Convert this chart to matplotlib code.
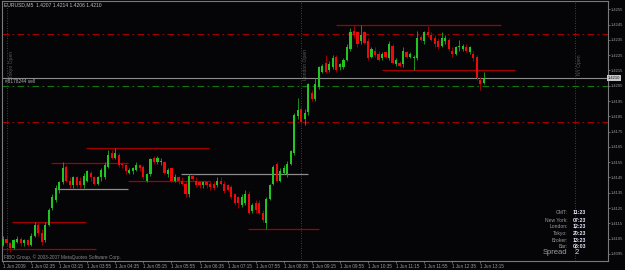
import matplotlib
matplotlib.use("Agg")
import matplotlib.pyplot as plt
import numpy as np

# ---------------- data ----------------
header = "EURUSD,M5  1.4207 1.4214 1.4206 1.4210"

opens = [1.4101, 1.4105, 1.4102, 1.4099, 1.4103, 1.4105, 1.4102, 1.4104, 1.4101, 1.4107,
         1.4114, 1.4109, 1.4104, 1.4114, 1.4125, 1.4130, 1.4137, 1.4142, 1.4152, 1.4143,
         1.4140, 1.4145, 1.4143, 1.4140, 1.4143, 1.4148, 1.4145, 1.4141, 1.4145, 1.4145,
         1.4152, 1.4161, 1.4158, 1.4160, 1.4154, 1.4153, 1.4148, 1.4149, 1.4150, 1.4153,
         1.4152, 1.4143, 1.4147, 1.4158, 1.4155, 1.4155, 1.4155, 1.4147, 1.4151, 1.4143,
         1.4145, 1.4143, 1.4141, 1.4134, 1.4146, 1.4143, 1.4142, 1.4140, 1.4142, 1.4141,
         1.4141, 1.4140, 1.4143, 1.4141, 1.4140, 1.4139, 1.4134, 1.4132, 1.4127, 1.4128,
         1.4134, 1.4123, 1.4128, 1.4128, 1.4122, 1.4115, 1.4131, 1.4141, 1.4154, 1.4143,
         1.4148, 1.4147, 1.4154, 1.4161, 1.4185, 1.4190, 1.4183, 1.4188, 1.4200, 1.4196,
         1.4204, 1.4214, 1.4220, 1.4215, 1.4217, 1.4224, 1.4217, 1.4217, 1.4222, 1.4229,
         1.4241, 1.4240, 1.4234, 1.4240, 1.4234, 1.4224, 1.4228, 1.4226, 1.4223, 1.4227,
         1.4223, 1.4231, 1.4219, 1.4220, 1.4219, 1.4227, 1.4224, 1.4223, 1.4223, 1.4237,
         1.4234, 1.4240, 1.4238, 1.4236, 1.4234, 1.4231, 1.4234, 1.4235, 1.4228, 1.4226,
         1.4230, 1.4229, 1.4230, 1.4227, 1.4226, 1.4224, 1.4209, 1.4207]
highs = [1.4107, 1.4107, 1.4103, 1.4105, 1.4107, 1.4106, 1.4105, 1.4105, 1.4109, 1.4116,
         1.4115, 1.4111, 1.4116, 1.4125, 1.4134, 1.4140, 1.4143, 1.4155, 1.4153, 1.4145,
         1.4146, 1.4146, 1.4145, 1.4148, 1.4150, 1.4149, 1.4146, 1.4146, 1.4151, 1.4155,
         1.4163, 1.4163, 1.4164, 1.4161, 1.4155, 1.4154, 1.4151, 1.4152, 1.4155, 1.4154,
         1.4153, 1.4148, 1.4158, 1.4159, 1.4159, 1.4158, 1.4156, 1.4151, 1.4152, 1.4147,
         1.4146, 1.4145, 1.4143, 1.4147, 1.4147, 1.4145, 1.4143, 1.4143, 1.4143, 1.4143,
         1.4143, 1.4145, 1.4145, 1.4143, 1.4141, 1.4140, 1.4135, 1.4133, 1.4134, 1.4137,
         1.4136, 1.4128, 1.4130, 1.4130, 1.4124, 1.4132, 1.4141, 1.4153, 1.4155, 1.4151,
         1.4153, 1.4156, 1.4163, 1.4187, 1.4197, 1.4191, 1.4190, 1.4207, 1.4202, 1.4210,
         1.4218, 1.4219, 1.4225, 1.4221, 1.4225, 1.4225, 1.4220, 1.4223, 1.4232, 1.4243,
         1.4245, 1.4241, 1.4245, 1.4241, 1.4236, 1.4230, 1.4230, 1.4228, 1.4227, 1.4228,
         1.4234, 1.4232, 1.4223, 1.4221, 1.4230, 1.4228, 1.4227, 1.4225, 1.4241, 1.4238,
         1.4241, 1.4244, 1.4240, 1.4238, 1.4236, 1.4240, 1.4238, 1.4236, 1.4230, 1.4231,
         1.4235, 1.4232, 1.4232, 1.4231, 1.4228, 1.4225, 1.4211, 1.4214]
lows = [1.4100, 1.4101, 1.4096, 1.4098, 1.4102, 1.4100, 1.4100, 1.4100, 1.4100, 1.4106,
        1.4107, 1.4101, 1.4103, 1.4113, 1.4124, 1.4129, 1.4135, 1.4141, 1.4142, 1.4138,
        1.4138, 1.4139, 1.4138, 1.4138, 1.4142, 1.4143, 1.4140, 1.4140, 1.4143, 1.4144,
        1.4151, 1.4157, 1.4157, 1.4152, 1.4151, 1.4147, 1.4147, 1.4147, 1.4149, 1.4149,
        1.4144, 1.4142, 1.4146, 1.4154, 1.4154, 1.4153, 1.4147, 1.4145, 1.4142, 1.4142,
        1.4141, 1.4140, 1.4132, 1.4132, 1.4143, 1.4139, 1.4138, 1.4138, 1.4138, 1.4137,
        1.4137, 1.4139, 1.4140, 1.4135, 1.4136, 1.4131, 1.4127, 1.4125, 1.4126, 1.4127,
        1.4121, 1.4122, 1.4122, 1.4121, 1.4116, 1.4111, 1.4130, 1.4140, 1.4142, 1.4142,
        1.4147, 1.4145, 1.4153, 1.4160, 1.4183, 1.4180, 1.4179, 1.4186, 1.4195, 1.4195,
        1.4203, 1.4213, 1.4213, 1.4214, 1.4216, 1.4214, 1.4215, 1.4216, 1.4221, 1.4228,
        1.4236, 1.4230, 1.4232, 1.4232, 1.4222, 1.4223, 1.4224, 1.4221, 1.4222, 1.4223,
        1.4222, 1.4219, 1.4218, 1.4217, 1.4217, 1.4223, 1.4223, 1.4215, 1.4222, 1.4234,
        1.4232, 1.4237, 1.4234, 1.4230, 1.4229, 1.4230, 1.4232, 1.4228, 1.4224, 1.4225,
        1.4228, 1.4228, 1.4227, 1.4226, 1.4221, 1.4209, 1.4202, 1.4206]
closes = [1.4105, 1.4102, 1.4099, 1.4104, 1.4105, 1.4102, 1.4104, 1.4101, 1.4107, 1.4114,
          1.4109, 1.4103, 1.4114, 1.4124, 1.4132, 1.4138, 1.4142, 1.4151, 1.4143, 1.4140,
          1.4145, 1.4140, 1.4140, 1.4146, 1.4149, 1.4145, 1.4141, 1.4145, 1.4150, 1.4153,
          1.4160, 1.4158, 1.4161, 1.4153, 1.4153, 1.4149, 1.4150, 1.4151, 1.4153, 1.4151,
          1.4145, 1.4147, 1.4157, 1.4155, 1.4158, 1.4156, 1.4148, 1.4150, 1.4143, 1.4145,
          1.4143, 1.4141, 1.4134, 1.4146, 1.4144, 1.4140, 1.4140, 1.4142, 1.4140, 1.4139,
          1.4138, 1.4143, 1.4141, 1.4136, 1.4137, 1.4132, 1.4128, 1.4128, 1.4132, 1.4134,
          1.4122, 1.4127, 1.4124, 1.4122, 1.4117, 1.4131, 1.4140, 1.4152, 1.4143, 1.4149,
          1.4151, 1.4154, 1.4162, 1.4186, 1.4189, 1.4181, 1.4187, 1.4206, 1.4196, 1.4206,
          1.4217, 1.4218, 1.4214, 1.4219, 1.4223, 1.4215, 1.4219, 1.4222, 1.4230, 1.4240,
          1.4238, 1.4232, 1.4238, 1.4233, 1.4223, 1.4229, 1.4225, 1.4222, 1.4226, 1.4224,
          1.4232, 1.4220, 1.4222, 1.4218, 1.4228, 1.4224, 1.4226, 1.4224, 1.4236, 1.4235,
          1.4240, 1.4238, 1.4235, 1.4232, 1.4230, 1.4236, 1.4236, 1.4229, 1.4226, 1.4230,
          1.4231, 1.4231, 1.4228, 1.4230, 1.4223, 1.4210, 1.4206, 1.4210]

time_labels = ["1 Jun 2009", "1 Jun 02:35", "1 Jun 03:15", "1 Jun 03:55", "1 Jun 04:35",
               "1 Jun 05:15", "1 Jun 05:55", "1 Jun 06:35", "1 Jun 07:15", "1 Jun 07:55",
               "1 Jun 08:35", "1 Jun 09:15", "1 Jun 09:55", "1 Jun 10:35", "1 Jun 11:15",
               "1 Jun 11:55", "1 Jun 12:35", "1 Jun 13:15"]
price_ticks = [1.4095, 1.4105, 1.4115, 1.4125, 1.4135, 1.4145, 1.4155, 1.4165, 1.4175,
               1.4185, 1.4195, 1.4205, 1.4215, 1.4225, 1.4235, 1.4245, 1.4255]

stop_loss = 1.4239
take_profit = 1.4181
order_price = 1.4205
order_label = "#8178244 sell"
bid_price = 1.4210

red_levels = [1.4245, 1.4215, 1.4164, 1.41545, 1.4143, 1.4116, 1.4098, 1.4111]
red_from = [95, 108, 23.5, 13.7, 35.6, 2.6, -0.3, 69.8]
red_to = [142, 146, 58.7, 35.6, 59, 23.6, 26.5, 90]
gray_levels = [1.4147, 1.41375]
gray_from = [50.7, 15.7]
gray_to = [86.9, 35.6]

session_bars = [1, 85, 163]
session_names = ["Tokyo Open", "London Open", "NY Open"]

info_labels = ["GMT:", "New York:", "London:", "Tokyo:", "Broker:", "Bar:"]
info_values = ["11:23", "07:23", "12:23", "20:23", "13:23", "03:03"]
spread_value = "2"

# ---------------- drawing ----------------
W, H = 625, 270
BG = "#050508"
FG = "#9a9a9a"
FONT = ["Liberation Sans Narrow", "Liberation Sans", "DejaVu Sans"]
plt.rcParams["font.family"] = FONT

fig = plt.figure(figsize=(W / 100, H / 100), dpi=100, facecolor=BG)
L, R, T, B = 2, 608, 1, 261
ax = fig.add_axes([L / W, (H - B) / H, (R - L) / W, (B - T) / H], facecolor=BG)

n = len(opens)
x = np.arange(n)
o = np.array(opens); c = np.array(closes); hi = np.array(highs); lo = np.array(lows)
up = c >= o

bull_body, bull_wick = "#22c522", "#1f8f1f"
bear_body, bear_wick = "#ee0a0a", "#a00000"

ax.vlines(x[up], lo[up], hi[up], color=bull_wick, lw=0.7, zorder=3)
ax.vlines(x[~up], lo[~up], hi[~up], color=bear_wick, lw=0.7, zorder=3)
body_h = np.maximum(np.abs(c - o), 0.00004)
body_b = np.minimum(o, c)
ax.bar(x[up], body_h[up], bottom=body_b[up], width=0.62, color=bull_body, lw=0, zorder=4)
ax.bar(x[~up], body_h[~up], bottom=body_b[~up], width=0.62, color=bear_body, lw=0, zorder=4)

xmin, xmax = -0.3, 172.4
ymin, ymax = 1.40904, 1.42604
ax.set_xlim(xmin, xmax)
ax.set_ylim(ymin, ymax)

dashdot = (0, (6, 3, 1.5, 3))
ax.axhline(stop_loss, color="#a00000", lw=0.8, ls=dashdot, zorder=2)
ax.axhline(take_profit, color="#a00000", lw=0.8, ls=dashdot, zorder=2)
ax.axhline(order_price, color="#0e7a0e", lw=0.8, ls=dashdot, zorder=2)
ax.axhline(bid_price, color="#8c8c8c", lw=0.8, zorder=2)
ax.text(0.5, order_price + 0.00012, order_label, color="#b0b0b0", fontsize=3.4,
        ha="left", va="bottom", zorder=5)

ax.hlines(red_levels, red_from, red_to, color="#a30000", lw=0.9, zorder=2)
ax.hlines(gray_levels, gray_from, gray_to, color="#8c8c8c", lw=0.9, zorder=2)

for sb, name in zip(session_bars, session_names):
    ax.axvline(sb, color="#555555", lw=0.6, ls=(0, (1, 2)), zorder=1)
    ax.text(sb + 0.6, 1.4219, name, rotation=90, color="#5a5a5a", fontsize=3.6,
            ha="left", va="center", zorder=1)

for s in ax.spines.values():
    s.set_color("#7a7a7a")
    s.set_linewidth(0.8)
ax.yaxis.tick_right()
ax.set_yticks(price_ticks)
ax.set_yticklabels([f"{p:.4f}" for p in price_ticks])
ax.set_xticks(np.arange(0, 8 * len(time_labels), 8))
ax.set_xticklabels(time_labels, ha="left")
ax.tick_params(axis="y", colors="#7a7a7a", labelcolor=FG, labelsize=3.0, length=1.5,
               width=0.6, pad=0.8)
ax.tick_params(axis="x", colors="#7a7a7a", labelcolor=FG, labelsize=3.3, length=1.5,
               width=0.6, pad=0.3)

ax.text(1.0, bid_price, f"{bid_price:.4f}", transform=ax.get_yaxis_transform(),
        color="#101010", fontsize=3.0, ha="left", va="center",
        bbox=dict(boxstyle="square,pad=0.15", fc="#c8c8c8", ec="none"), zorder=6,
        clip_on=False)

fig.text(4 / W, 1 - 5 / H, header, color="#c0c0c0", fontsize=3.6, ha="left", va="center")
fig.text(4 / W, 1 - 257 / H, "FIBO Group, \u00a9 2003-2007 MetaQuotes Software Corp.",
         color="#8a8a8a", fontsize=3.4, ha="left", va="center")

rows_y = [213, 220, 227, 233.5, 240, 247]
for yy, lab, val in zip(rows_y, info_labels, info_values):
    fig.text(568 / W, 1 - yy / H, lab, color="#9a9a9a", fontsize=3.6, ha="right", va="center")
    fig.text(573 / W, 1 - yy / H, val, color="#e6e6ff", fontsize=3.8, ha="left",
             va="center", fontweight="bold")
fig.text(567 / W, 1 - 253 / H, "Spread", color="#a0a0a0", fontsize=5.5, ha="right", va="center")
fig.text(575 / W, 1 - 253 / H, spread_value, color="#e0e0e0", fontsize=5.5, ha="left",
         va="center")

fig.savefig("out.png", dpi=100, facecolor=BG)
